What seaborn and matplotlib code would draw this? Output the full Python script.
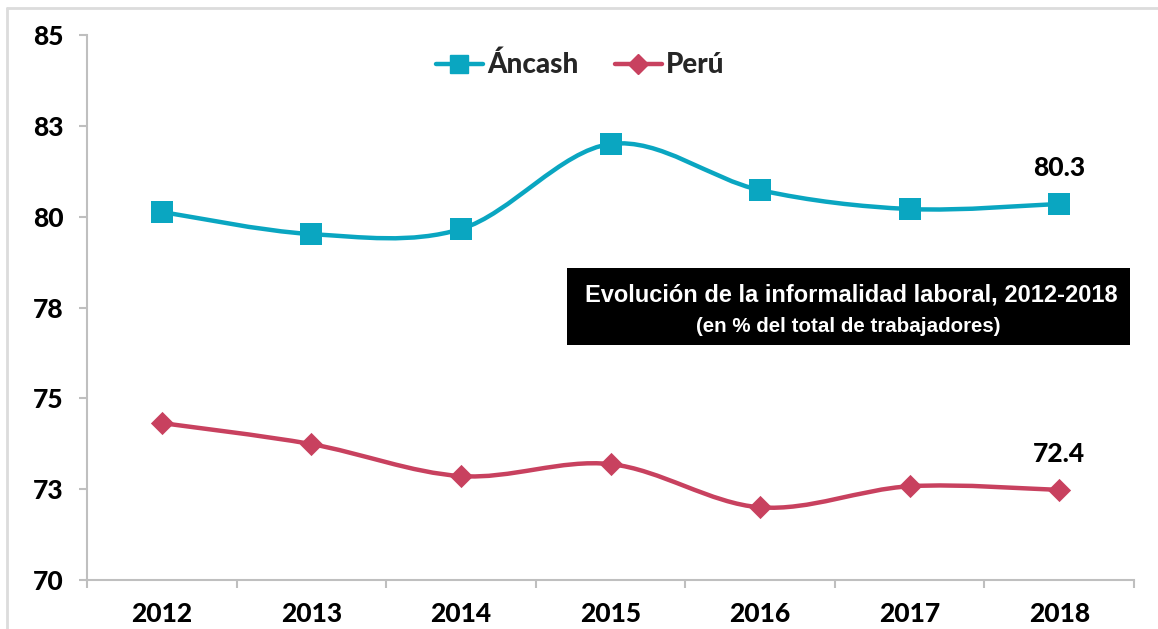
import numpy as np
import pandas as pd
import matplotlib
matplotlib.use("Agg")
import matplotlib.pyplot as plt
import seaborn as sns
from matplotlib.path import Path
from matplotlib.patches import PathPatch, Rectangle
from matplotlib.lines import Line2D
from matplotlib import font_manager

years = ["2012", "2013", "2014", "2015", "2016", "2017", "2018"]
ancash = [80.13, 79.52, 79.66, 82.0, 80.73, 80.21, 80.35]
peru = [74.32, 73.74, 72.86, 73.19, 72.0, 72.58, 72.48]
series_names = ["Áncash", "Perú"]
ytick_vals = [70, 72.5, 75, 77.5, 80, 82.5, 85]
ytick_labels = ["70", "73", "75", "78", "80", "83", "85"]
end_labels = ["80.3", "72.4"]
title_line1 = "Evolución de la informalidad laboral, 2012-2018"
title_line2 = "(en % del total de trabajadores)"

c_anc = "#0aa6c1"
c_per = "#c8415f"
gray = "#bfbfbf"

sns.set_theme(style="white")
plt.rcParams["font.family"] = ["Lato", "DejaVu Sans"]

avail = {f.name for f in font_manager.fontManager.ttflist}
narrow = "Liberation Sans Narrow" if "Liberation Sans Narrow" in avail else "Liberation Sans"
heavy = 900

df = pd.DataFrame({
    "year": years * 2,
    "idx": list(range(len(years))) * 2,
    "value": ancash + peru,
    "serie": [series_names[0]] * len(years) + [series_names[1]] * len(years),
})

fig = plt.figure(figsize=(11.58, 6.29), dpi=100)
ax = fig.add_axes([87 / 1158, 1 - 580 / 629, (1134 - 87) / 1158, (580 - 35) / 629])

def smooth_path(xs, ys):
    pts = np.column_stack([xs, ys]).astype(float)
    n = len(pts)
    verts = [pts[0]]
    codes = [Path.MOVETO]
    for i in range(n - 1):
        p0 = pts[i - 1] if i > 0 else pts[i]
        p1 = pts[i]
        p2 = pts[i + 1]
        p3 = pts[i + 2] if i + 2 < n else pts[i + 1]
        c1 = p1 + (p2 - p0) / 6.0
        c2 = p2 - (p3 - p1) / 6.0
        verts += [c1, c2, p2]
        codes += [Path.CURVE4] * 3
    return Path(verts, codes)

for name, col in zip(series_names, [c_anc, c_per]):
    sub = df[df["serie"] == name]
    ax.add_patch(PathPatch(smooth_path(sub["idx"].values, sub["value"].values),
                           facecolor="none", edgecolor=col, lw=3.2,
                           capstyle="round", zorder=2))

sns.scatterplot(data=df[df["serie"] == series_names[0]], x="idx", y="value",
                marker="s", s=230, color=c_anc, edgecolor=c_anc, linewidth=0,
                ax=ax, zorder=3, legend=False)
sns.scatterplot(data=df[df["serie"] == series_names[1]], x="idx", y="value",
                marker="D", s=140, color=c_per, edgecolor=c_per, linewidth=0,
                ax=ax, zorder=3, legend=False)

ax.set_xlim(-0.5, len(years) - 0.5)
ax.set_ylim(70, 85)
ax.set_yticks(ytick_vals)
ax.set_yticklabels(ytick_labels)
ax.set_xticks(range(len(years)))
ax.set_xticklabels(years)
ax.set_xticks(np.arange(-0.5, len(years), 1.0), minor=True)
ax.set_xlabel("")
ax.set_ylabel("")

for s in ["top", "right"]:
    ax.spines[s].set_visible(False)
for s in ["left", "bottom"]:
    ax.spines[s].set_color(gray)
    ax.spines[s].set_linewidth(1.5)

ax.tick_params(axis="y", which="major", direction="out", length=6, width=1.5,
               color=gray, left=True, pad=11, labelsize=19)
ax.tick_params(axis="x", which="major", length=0, pad=16, labelsize=19)
ax.tick_params(axis="x", which="minor", direction="out", length=6, width=1.5,
               color=gray, bottom=True)
for lab in ax.get_xticklabels() + ax.get_yticklabels():
    lab.set_fontweight(heavy)
    lab.set_color("black")

# end labels
ax.annotate(end_labels[0], (len(years) - 1, ancash[-1]), xytext=(0, 17),
            textcoords="offset points", ha="center", va="bottom",
            fontsize=19, fontweight=heavy, color="black")
ax.annotate(end_labels[1], (len(years) - 1, peru[-1]), xytext=(0, 17),
            textcoords="offset points", ha="center", va="bottom",
            fontsize=19, fontweight=heavy, color="black")

# legend
handles = [
    Line2D([], [], color=c_anc, lw=3.2, marker="s", markersize=13),
    Line2D([], [], color=c_per, lw=3.2, marker="D", markersize=10),
]
leg = ax.legend(handles, series_names, loc="upper center",
                bbox_to_anchor=(0.5 - 0.029, 1.015), ncol=2, frameon=False,
                handlelength=1.7, handletextpad=0.15, columnspacing=1.3,
                prop={"weight": heavy, "size": 20, "family": ["Lato", "DejaVu Sans"]})

# title box
fig.patches.append(Rectangle((567 / 1158, 1 - 345 / 629), (1130 - 567) / 1158,
                             (345 - 268) / 629, transform=fig.transFigure,
                             facecolor="black", edgecolor="none", zorder=5))
cx = (567 + 1130) / 2 / 1158
fig.text(cx + 0.002, 1 - 295 / 629, title_line1, ha="center", va="center", color="white",
         fontsize=17, fontweight="bold", family=[narrow, "DejaVu Sans"], zorder=6)
fig.text(cx, 1 - 327 / 629, title_line2, ha="center", va="center", color="white",
         fontsize=14.8, fontweight="bold", family=[narrow, "DejaVu Sans"], zorder=6)

# frame lines (top and left)
fig.lines.append(Line2D([7 / 1158, 1], [1 - 7.5 / 629, 1 - 7.5 / 629],
                        transform=fig.transFigure, color="#dcdcdc", lw=2))
fig.lines.append(Line2D([7.5 / 1158, 7.5 / 1158], [0, 1 - 7.5 / 629],
                        transform=fig.transFigure, color="#dcdcdc", lw=2))

fig.savefig("out.png", dpi=100)
